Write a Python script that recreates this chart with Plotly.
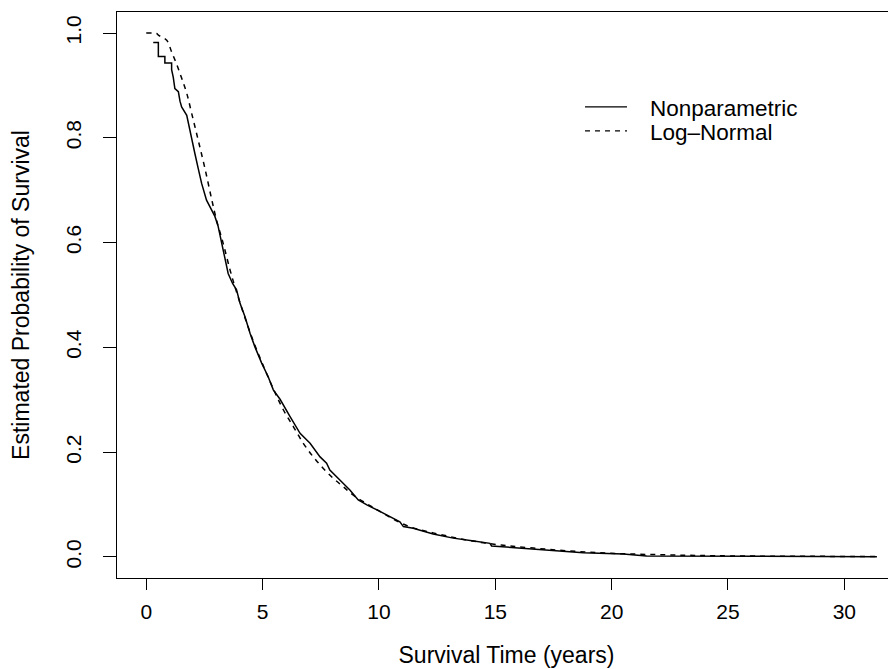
import plotly.graph_objects as go

# Kaplan-Meier (nonparametric) estimate
km_time = [0.30, 0.52, 0.52, 0.80, 0.80, 1.09, 1.09, 1.16, 1.23, 1.38, 1.45, 1.52, 1.74, 1.88,
           2.09, 2.23, 2.38, 2.59, 2.81, 2.95, 3.09, 3.24, 3.38, 3.52, 3.71, 3.88, 4.03, 4.24,
           4.46, 4.67, 4.96, 5.24, 5.46, 5.75, 6.18, 6.61, 7.04, 7.47, 7.75, 7.89, 8.32, 8.75,
           9.11, 9.50, 10.00, 10.50, 10.90, 11.05, 11.47, 12.33, 13.19, 14.00, 14.77, 14.84,
           16.63, 18.78, 20.50, 21.50, 31.40]
km_surv = [0.982, 0.982, 0.955, 0.955, 0.943, 0.943, 0.930, 0.916, 0.894, 0.888, 0.870, 0.859,
           0.843, 0.812, 0.770, 0.742, 0.713, 0.681, 0.662, 0.650, 0.631, 0.599, 0.567, 0.541,
           0.522, 0.510, 0.484, 0.459, 0.427, 0.401, 0.370, 0.344, 0.319, 0.301, 0.268, 0.236,
           0.217, 0.191, 0.179, 0.166, 0.147, 0.128, 0.109, 0.099, 0.088, 0.076, 0.067, 0.058,
           0.055, 0.044, 0.036, 0.031, 0.026, 0.021, 0.015, 0.0082, 0.0057, 0.002, 0.0006]

# Fitted log-normal survival curve
ln_time = [0.0, 0.45, 0.52, 0.88, 1.09, 1.31, 1.52, 1.74, 1.95, 2.23, 2.52, 2.81, 3.02, 3.24,
           3.38, 3.60, 3.81, 4.20, 4.60, 5.00, 5.45, 5.89, 6.32, 6.75, 7.18, 7.61, 8.04, 8.47,
           8.90, 9.50, 10.00, 11.19, 12.33, 14.50, 16.63, 19.50, 22.40, 25.20, 31.40]
ln_surv = [1.0, 0.999, 0.996, 0.986, 0.964, 0.940, 0.914, 0.885, 0.847, 0.796, 0.742, 0.683,
           0.643, 0.609, 0.586, 0.548, 0.516, 0.462, 0.412, 0.368, 0.322, 0.281, 0.249, 0.217,
           0.191, 0.169, 0.150, 0.134, 0.118, 0.101, 0.088, 0.060, 0.046, 0.027, 0.017, 0.008,
           0.004, 0.002, 0.001]

x_ticks = [0, 5, 10, 15, 20, 25, 30]
y_ticks = [0.0, 0.2, 0.4, 0.6, 0.8, 1.0]
y_tick_labels = ["0.0", "0.2", "0.4", "0.6", "0.8", "1.0"]
series_names = ["Nonparametric", "Log\u2013Normal"]

FONT = "Liberation Sans, Arial, Helvetica, sans-serif"

fig = go.Figure()
fig.add_trace(go.Scatter(x=km_time, y=km_surv, mode="lines", name=series_names[0],
                         showlegend=False, line=dict(color="black", width=1.5)))
fig.add_trace(go.Scatter(x=ln_time, y=ln_surv, mode="lines", name=series_names[1],
                         showlegend=False,
                         line=dict(color="black", width=1.5, dash="5px,5px", shape="spline")))

# Legend (R-style, drawn in paper coordinates)
legend_rows_y = [0.8322, 0.7898]
legend_dash = ["solid", "5px,5px"]
for name, yy, dsh in zip(series_names, legend_rows_y, legend_dash):
    fig.add_shape(type="line", xref="paper", yref="paper", x0=0.6008, x1=0.6547,
                  y0=yy, y1=yy, line=dict(color="black", width=1.2, dash=dsh))
    fig.add_annotation(xref="paper", yref="paper", x=0.6816, y=yy - 0.002,
                       xanchor="left", yanchor="middle", showarrow=False, text=name,
                       font=dict(family=FONT, size=22.5, color="black"))

fig.update_layout(
    width=888, height=661,
    margin=dict(l=109, r=0, t=4, b=91, pad=0),
    paper_bgcolor="white", plot_bgcolor="white",
    font=dict(family=FONT, size=21, color="black"),
    showlegend=False,
    xaxis=dict(range=[-1.257, 32.22], tickmode="array", tickvals=x_ticks,
               ticks="outside", ticklen=11, tickwidth=1, tickcolor="black",
               showline=True, linecolor="black", linewidth=1, mirror=True,
               showgrid=False, zeroline=False, ticklabelstandoff=4,
               title=dict(text="Survival Time (years)", standoff=24,
                          font=dict(family=FONT, size=23))),
    yaxis=dict(range=[-0.0401, 1.0401], tickmode="array", tickvals=y_ticks,
               ticktext=y_tick_labels, tickangle=-90,
               ticks="outside", ticklen=13, tickwidth=1, tickcolor="black",
               showline=True, linecolor="black", linewidth=1, mirror=False,
               showgrid=False, zeroline=False, ticklabelstandoff=14,
               title=dict(text="Estimated Probability of Survival", standoff=26,
                          font=dict(family=FONT, size=23))),
)

fig.write_html("out.html")
